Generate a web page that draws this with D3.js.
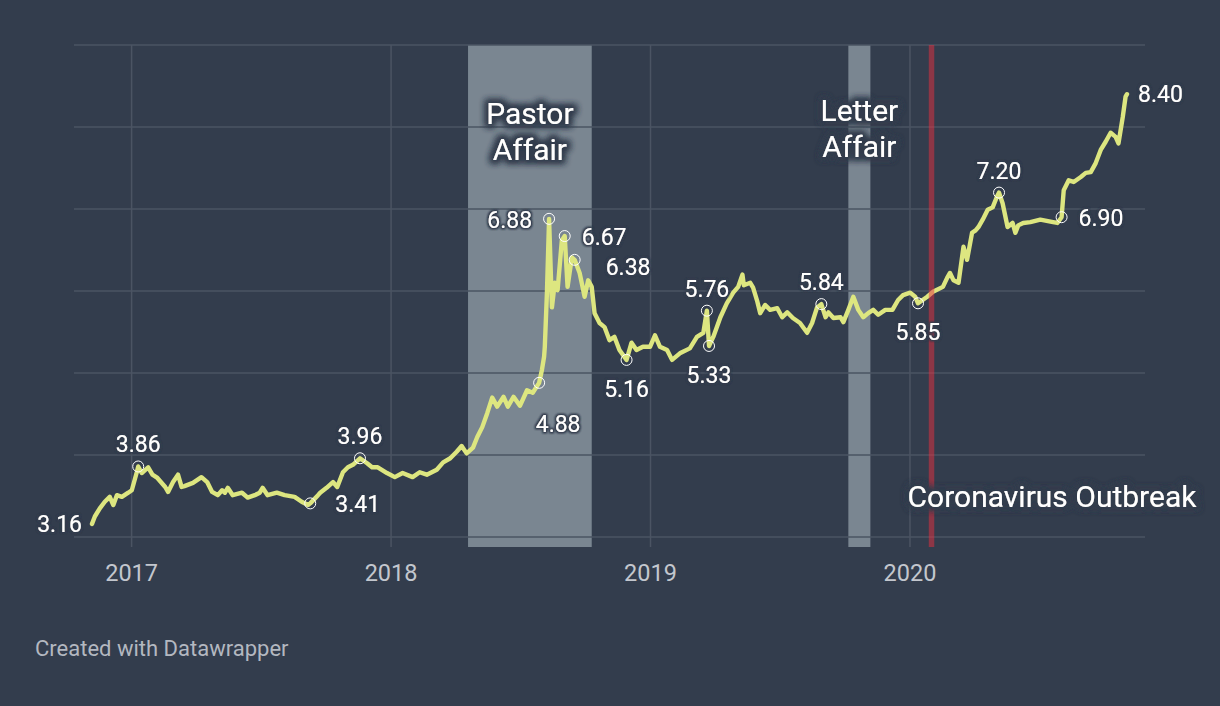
<!DOCTYPE html>
<html><head><meta charset="utf-8">
<script src="https://cdn.jsdelivr.net/npm/d3@7"></script>
<style>
html,body{margin:0;padding:0;background:#333d4d;}
svg{display:block;font-family:Roboto,"Noto Sans",sans-serif;}
</style></head><body>
<svg id="c" width="1220" height="706"></svg>
<script>
const dates = ["2016-11-07","2016-11-11","2016-11-18","2016-11-25","2016-12-02","2016-12-07","2016-12-12","2016-12-19","2016-12-28","2017-01-02","2017-01-09","2017-01-11","2017-01-16","2017-01-25","2017-01-31","2017-02-07","2017-02-18","2017-02-22","2017-03-01","2017-03-08","2017-03-13","2017-03-17","2017-03-29","2017-04-10","2017-04-18","2017-04-25","2017-05-03","2017-05-09","2017-05-13","2017-05-17","2017-05-24","2017-06-06","2017-06-14","2017-06-24","2017-07-01","2017-07-05","2017-07-12","2017-07-25","2017-08-05","2017-08-19","2017-08-29","2017-09-07","2017-09-10","2017-09-21","2017-09-24","2017-10-03","2017-10-12","2017-10-18","2017-10-26","2017-11-02","2017-11-09","2017-11-19","2017-11-29","2017-12-06","2017-12-14","2017-12-27","2018-01-07","2018-01-18","2018-02-01","2018-02-11","2018-02-21","2018-03-07","2018-03-16","2018-03-26","2018-04-04","2018-04-11","2018-04-18","2018-04-27","2018-05-03","2018-05-10","2018-05-17","2018-05-24","2018-05-31","2018-06-09","2018-06-15","2018-06-23","2018-07-02","2018-07-12","2018-07-20","2018-07-29","2018-08-02","2018-08-05","2018-08-06","2018-08-09","2018-08-12","2018-08-16","2018-08-20","2018-08-24","2018-08-30","2018-09-03","2018-09-07","2018-09-13","2018-09-17","2018-09-24","2018-10-01","2018-10-06","2018-10-11","2018-10-15","2018-10-22","2018-10-29","2018-11-05","2018-11-12","2018-11-19","2018-11-29","2018-12-06","2018-12-13","2018-12-22","2019-01-01","2019-01-08","2019-01-15","2019-01-25","2019-02-01","2019-02-12","2019-02-26","2019-03-08","2019-03-17","2019-03-22","2019-03-25","2019-03-31","2019-04-10","2019-04-19","2019-04-28","2019-05-05","2019-05-11","2019-05-13","2019-05-22","2019-05-26","2019-06-01","2019-06-05","2019-06-12","2019-06-19","2019-06-29","2019-07-06","2019-07-13","2019-07-21","2019-07-31","2019-08-10","2019-08-17","2019-08-24","2019-08-30","2019-09-05","2019-09-09","2019-09-16","2019-09-26","2019-09-30","2019-10-07","2019-10-14","2019-10-21","2019-10-28","2019-11-04","2019-11-11","2019-11-18","2019-11-28","2019-12-08","2019-12-16","2019-12-23","2020-01-02","2020-01-09","2020-01-13","2020-01-26","2020-02-03","2020-02-17","2020-02-23","2020-02-27","2020-03-03","2020-03-10","2020-03-17","2020-03-22","2020-03-29","2020-04-03","2020-04-07","2020-04-13","2020-04-20","2020-04-27","2020-05-03","2020-05-06","2020-05-11","2020-05-18","2020-05-25","2020-05-29","2020-06-02","2020-06-09","2020-06-19","2020-07-03","2020-07-21","2020-07-27","2020-08-02","2020-08-05","2020-08-12","2020-08-19","2020-08-29","2020-09-05","2020-09-12","2020-09-19","2020-09-26","2020-10-03","2020-10-10","2020-10-17","2020-10-21","2020-10-27","2020-10-31","2020-11-02"];
const values = [3.16,3.25,3.35,3.43,3.49,3.39,3.51,3.49,3.54,3.57,3.79,3.86,3.78,3.85,3.76,3.72,3.61,3.55,3.67,3.76,3.61,3.62,3.66,3.73,3.67,3.55,3.51,3.57,3.54,3.60,3.51,3.54,3.48,3.51,3.54,3.60,3.51,3.54,3.51,3.49,3.43,3.39,3.41,3.51,3.54,3.60,3.67,3.61,3.79,3.85,3.88,3.96,3.90,3.85,3.85,3.78,3.73,3.78,3.73,3.79,3.76,3.82,3.91,3.96,4.04,4.11,4.02,4.09,4.22,4.34,4.51,4.70,4.59,4.71,4.59,4.71,4.60,4.79,4.76,4.88,5.04,5.20,5.32,5.98,6.88,5.80,6.10,6.01,6.62,6.67,6.05,6.41,6.38,6.22,5.93,6.13,6.05,5.73,5.61,5.56,5.40,5.44,5.28,5.16,5.37,5.28,5.32,5.32,5.46,5.32,5.28,5.16,5.24,5.30,5.44,5.49,5.76,5.33,5.44,5.68,5.85,5.98,6.05,6.20,6.07,6.10,6.04,5.87,5.73,5.83,5.77,5.79,5.68,5.74,5.67,5.61,5.49,5.61,5.80,5.84,5.68,5.74,5.67,5.68,5.62,5.77,5.93,5.77,5.68,5.73,5.77,5.71,5.77,5.77,5.89,5.95,5.98,5.93,5.85,5.93,5.99,6.05,6.16,6.22,6.13,6.10,6.54,6.38,6.71,6.74,6.78,6.87,6.99,7.02,7.15,7.20,7.07,6.78,6.83,6.71,6.80,6.83,6.84,6.87,6.84,6.83,6.90,7.23,7.35,7.33,7.39,7.44,7.45,7.56,7.72,7.82,7.93,7.88,7.80,8.12,8.37,8.40];

const yTicks = [3,4,5,6,7,8,9];
const xTickLabels = ["2017","2018","2019","2020"];

const labelDates  = ["2016-11-07","2017-01-11","2017-09-10","2017-11-19","2018-07-29","2018-08-12","2018-09-03","2018-09-17","2018-11-29","2019-03-22","2019-03-25","2019-08-30","2020-01-13","2020-05-06","2020-08-02","2020-11-02"];
const labelValues = [3.16,3.86,3.41,3.96,4.88,6.88,6.67,6.38,5.16,5.76,5.33,5.84,5.85,7.20,6.90,8.40];
const labelPlace  = ["start","above","belowright","above","below2","left","right","right2","below","above","below","above","below","above","right","end"];

const bandNames  = [["Pastor","Affair"],["Letter","Affair"]];
const bandStarts = ["2018-04-20","2019-10-07"];
const bandEnds   = ["2018-10-11","2019-11-07"];
const eventName = "Coronavirus Outbreak";
const eventDate = "2020-02-01";
const footer = "Created with Datawrapper";

const parse = d3.timeParse("%Y-%m-%d");
const data = dates.map((d,i)=>({date:parse(d), value:values[i]}));

const svg = d3.select("#c");
const bg = "#333d4d";

const defs = svg.append("defs");
function halo(id, r, blur){
  const f = defs.append("filter").attr("id",id).attr("x","-20%").attr("y","-40%").attr("width","140%").attr("height","180%");
  f.append("feMorphology").attr("in","SourceAlpha").attr("operator","dilate").attr("radius",r).attr("result","d");
  f.append("feGaussianBlur").attr("in","d").attr("stdDeviation",blur).attr("result","b");
  f.append("feFlood").attr("flood-color",bg).attr("result","c");
  f.append("feComposite").attr("in","c").attr("in2","b").attr("operator","in").attr("result","s");
  const m = f.append("feMerge");
  m.append("feMergeNode").attr("in","s");
  m.append("feMergeNode").attr("in","s");
  m.append("feMergeNode").attr("in","SourceGraphic");
}
halo("haloBig",2.5,3);
halo("haloSmall",1.2,1);

const x = d3.scaleTime().domain(d3.extent(data,d=>d.date)).range([92,1127]);
const y = d3.scaleLinear().domain([3,9]).range([537,45]);
const gridL = 74, gridR = 1145, bandBottom = 547;

// bands
bandStarts.forEach((s,i)=>{
  svg.append("rect").attr("x",x(parse(s))).attr("y",y(9))
    .attr("width",x(parse(bandEnds[i]))-x(parse(s))).attr("height",bandBottom-y(9))
    .attr("fill","#7a8691");
});

// horizontal grid
svg.append("g").selectAll("line").data(yTicks).join("line")
  .attr("x1",gridL).attr("x2",gridR).attr("y1",d=>y(d)).attr("y2",d=>y(d))
  .attr("stroke","#4b5463").attr("stroke-width",1.5);

// x axis
const xAxis = d3.axisBottom(x)
  .tickValues(xTickLabels.map(t=>parse(t+"-01-01")))
  .tickFormat(d3.timeFormat("%Y"))
  .tickSize(-(bandBottom-y(9))).tickPadding(17);
const gx = svg.append("g").attr("transform",`translate(0,${bandBottom})`).call(xAxis);
gx.select(".domain").remove();
gx.selectAll(".tick line").attr("stroke","#4b5463").attr("stroke-width",1.5);
gx.selectAll(".tick text").attr("fill","#c3c7ce").attr("font-size",23.5).attr("font-family","Roboto");

// line
const line = d3.line().x(d=>x(d.date)).y(d=>y(d.value)).curve(d3.curveLinear);
svg.append("path").datum(data).attr("d",line).attr("fill","none")
  .attr("stroke","#dde680").attr("stroke-width",4.4).attr("stroke-linejoin","round").attr("stroke-linecap","round");

// event line
svg.append("line").attr("x1",x(parse(eventDate))).attr("x2",x(parse(eventDate)))
  .attr("y1",y(9)).attr("y2",bandBottom).attr("stroke","rgb(232,48,64)").attr("stroke-opacity",0.5).attr("stroke-width",5.5);

// band labels
const bandLabelTop = [124,121];
bandNames.forEach((lines,i)=>{
  const cx = (x(parse(bandStarts[i]))+x(parse(bandEnds[i])))/2;
  const t = svg.append("text").attr("text-anchor","middle").attr("fill","#ffffff")
    .attr("font-size",30).attr("filter","url(#haloBig)");
  lines.forEach((l,j)=>t.append("tspan").attr("x",cx).attr("y",bandLabelTop[i]+j*36).text(l));
});
svg.append("text").attr("x",x(parse(eventDate))-24).attr("y",507).attr("fill","#ffffff")
  .attr("font-size",30).attr("filter","url(#haloBig)").text(eventName);

// data labels
const offsets = {
  start:{dx:-10,dy:8,anchor:"end",circle:false},
  left:{dx:-17,dy:9,anchor:"end",circle:true},
  above:{dx:0,dy:-14,anchor:"middle",circle:true},
  belowright:{dx:25,dy:9,anchor:"start",circle:true},
  below2:{dx:19,dy:49,anchor:"middle",circle:true},
  right:{dx:17,dy:9,anchor:"start",circle:true},
  right2:{dx:31,dy:15,anchor:"start",circle:true},
  below:{dx:0,dy:37,anchor:"middle",circle:true},
  end:{dx:11,dy:8,anchor:"start",circle:false}
};
labelDates.forEach((d,i)=>{
  const px = x(parse(d)), py = y(labelValues[i]);
  const o = offsets[labelPlace[i]];
  if(o.circle){
    svg.append("circle").attr("cx",px).attr("cy",py).attr("r",5.5)
      .attr("fill","none").attr("stroke","#ffffff").attr("stroke-width",1);
  }
  svg.append("text").attr("x",px+o.dx).attr("y",py+o.dy).attr("text-anchor",o.anchor)
    .attr("fill","#ffffff").attr("font-size",23).attr("filter","url(#haloSmall)")
    .text(labelValues[i].toFixed(2));
});

svg.append("text").attr("x",35).attr("y",656).attr("fill","#b3b8c0").attr("font-size",22).text(footer);
</script>
</body></html>
